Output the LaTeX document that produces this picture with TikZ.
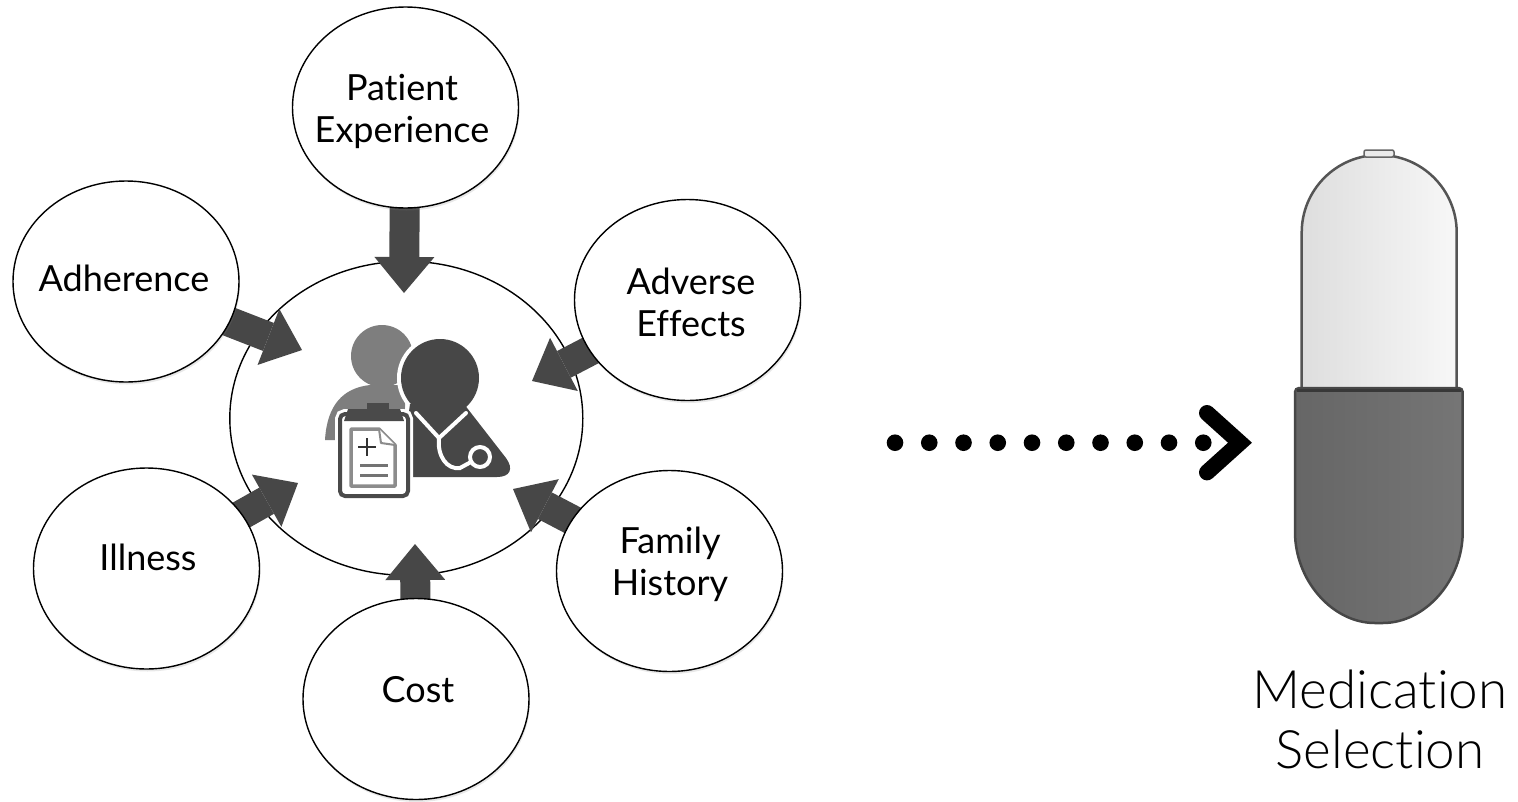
\documentclass[tikz,border=0pt]{standalone}
\usepackage{fontspec}
\setmainfont{Lato}[Ligatures=NoCommon]
\newfontfamily\captionfont{Lato}[UprightFont=* Light, Ligatures=NoCommon]
\usetikzlibrary{shapes.geometric,arrows.meta,shadows}
\pgfdeclarelayer{back}
\pgfdeclarelayer{mid}
\pgfsetlayers{back,mid,main}

\definecolor{arrowgray}{HTML}{474747}
\definecolor{docgray}{HTML}{474747}
\definecolor{patgray}{HTML}{7E7E7E}
\definecolor{clipgray}{HTML}{4A4A4A}
\definecolor{papergray}{HTML}{8C8C8C}
\definecolor{capedge}{HTML}{555555}

\begin{document}
\begin{tikzpicture}[x=1pt,y=-1pt,
  factor/.style={ellipse, draw=black, line width=1.4pt, fill=white,
    minimum width=226pt, minimum height=201pt, inner sep=0pt,
    drop shadow={opacity=0.18, shadow xshift=1pt, shadow yshift=-2.5pt}},
  hubshape/.style={ellipse, draw=black, line width=1.4pt, fill=white,
    minimum width=353pt, minimum height=314pt, inner sep=0pt},
  factortext/.style={align=center, font=\fontsize{36}{42}\selectfont, text=black, inner sep=0pt},
  flow/.style={draw=arrowgray, line width=30pt,
    -{Triangle[length=36pt, width=60pt, line width=0pt]}},
  dotflow/.style={line width=16.6pt, line cap=round, dash pattern=on 0pt off 34.25pt},
  chevron/.style={line width=16pt, line cap=round, line join=miter},
]
% canvas
\useasboundingbox (0,0) rectangle (1518,801);

% ---------- central hub with clinician icon ----------
\begin{pgfonlayer}{back}
  \fill[white] (0,0) rectangle (1518,801);
  \node[hubshape] (hub) at (406.3,418.3) {};

  % patient silhouette (behind)
  \fill[patgray] (382,356) circle[radius=31pt];
  \fill[patgray] (325,440) .. controls (327,405) and (343,388) .. (370,385)
    -- (405,385) -- (405,440) -- cycle;

  % clinician silhouette with white halo
  \path[draw=white, line width=8pt] (440,378) circle[radius=39pt];
  \path[draw=white, line width=8pt] (410,404) -- (464,404) -- (506,458)
    .. controls (514,469) and (510,477) .. (497,477) -- (400,477) -- cycle;
  \fill[docgray] (410,404) -- (464,404) -- (506,458)
    .. controls (514,469) and (510,477) .. (497,477) -- (400,477) -- cycle;
  \fill[docgray] (440,378) circle[radius=39pt];

  % stethoscope
  \draw[white, line width=4pt, line cap=round, line join=round]
    (416,413) -- (439,438) -- (466,413);
  \draw[white, line width=4pt, line cap=round]
    (439,438) .. controls (437,456) and (447,470) .. (460,468) -- (471,462);
  \draw[white, line width=4pt, fill=docgray] (480,457) circle[radius=10pt];

  % clipboard
  \path[draw=white, line width=10pt, rounded corners=5pt] (340,414) rectangle (408,496);
  \path[draw=clipgray, line width=4pt, fill=white, rounded corners=5pt] (340,414) rectangle (408,496);
  \fill[clipgray] (348,409) -- (400,409) -- (404,421) -- (344,421) -- cycle;
  \fill[clipgray] (367,403) rectangle (389,411);
  \draw[papergray, line width=3.5pt, line join=round]
    (351,429) -- (379,429) -- (395,445) -- (395,486) -- (351,486) -- cycle;
  \draw[papergray, line width=2pt, line join=round, fill=white]
    (379,429) -- (381,443) -- (395,445);
  \draw[black!80, line width=2.8pt] (358,447) -- (376,447) (367,438) -- (367,456);
  \draw[black!55, line width=3pt] (360,465) -- (388,465) (360,475) -- (388,475);
\end{pgfonlayer}

% ---------- influencing factors ----------
\node[factor] (pe) at (405.5,107.5) {};
\node[factor] (ad) at (126,281.5) {};
\node[factor] (ae) at (687.5,300) {};
\node[factor] (il) at (146.5,568.5) {};
\node[factor] (fh) at (669.5,571) {};
\node[factor] (co) at (416,699) {};

\node[factortext] (pet) at (402,111) {Patient\\Experience};
\node[factortext] (adt) at (124,278) {Adherence};
\node[factortext] (aet) at (691,302) {Adverse\\Effects};
\node[factortext] (ilt) at (148,557) {Illness};
\node[factortext] (fht) at (670,564) {Family\\History};
\node[factortext] (cot) at (418,690) {Cost};

% arrow tips inside the hub
\coordinate (tipPE) at (404,293);
\coordinate (tipAD) at (302,350);
\coordinate (tipAE) at (532,381);
\coordinate (tipFH) at (513,489);
\coordinate (tipIL) at (298,483);
\coordinate (tipCO) at (415,544);

\begin{pgfonlayer}{mid}
  \draw[flow] (pe.center) -- (tipPE);
  \draw[flow] (ad.center) -- (tipAD);
  \draw[flow] (ae.center) -- (tipAE);
  \draw[flow] (fh.center) -- (tipFH);
  \draw[flow] (il.center) -- (tipIL);
  \draw[flow] (co.center) -- (tipCO);
\end{pgfonlayer}

% ---------- dotted arrow towards the capsule ----------
\coordinate (dotA) at (895,442.7);
\coordinate (dotB) at (1204,442.7);
\coordinate (chevTop) at (1207,413);
\coordinate (chevTip) at (1240,442.7);
\coordinate (chevBot) at (1207,472.4);
\draw[dotflow] (dotA) -- (dotB);
\draw[chevron] (chevTop) -- (chevTip) -- (chevBot);

% ---------- capsule ----------
\path[draw=capedge, line width=2.5pt, left color=black!13, middle color=white, right color=black!3]
  (1301.7,395) -- (1301.7,232.5)
  .. controls (1301.7,189.7) and (1336.4,155) .. (1379.2,155)
  .. controls (1422,155) and (1456.7,189.7) .. (1456.7,232.5)
  -- (1456.7,395) -- cycle;
\draw[black!60, line width=1.5pt, fill=black!8, rounded corners=2pt] (1364,150) rectangle (1394,157);
\path[draw=black!72, line width=2.5pt, left color=black!60, middle color=black!68, right color=black!54,
      rounded corners=4pt]
  (1295,388) -- (1295,528)
  .. controls (1295,580.5) and (1332.5,623) .. (1378.85,623)
  .. controls (1425.2,623) and (1462.7,580.5) .. (1462.7,528)
  -- (1462.7,388) -- cycle;
\draw[black!78, line width=3pt] (1297,390) -- (1460.7,390);

\node[align=center, font=\captionfont\fontsize{53}{60}\selectfont, inner sep=0pt] (caption) at (1380,719)
  {Medication\\Selection};
\end{tikzpicture}
\end{document}
